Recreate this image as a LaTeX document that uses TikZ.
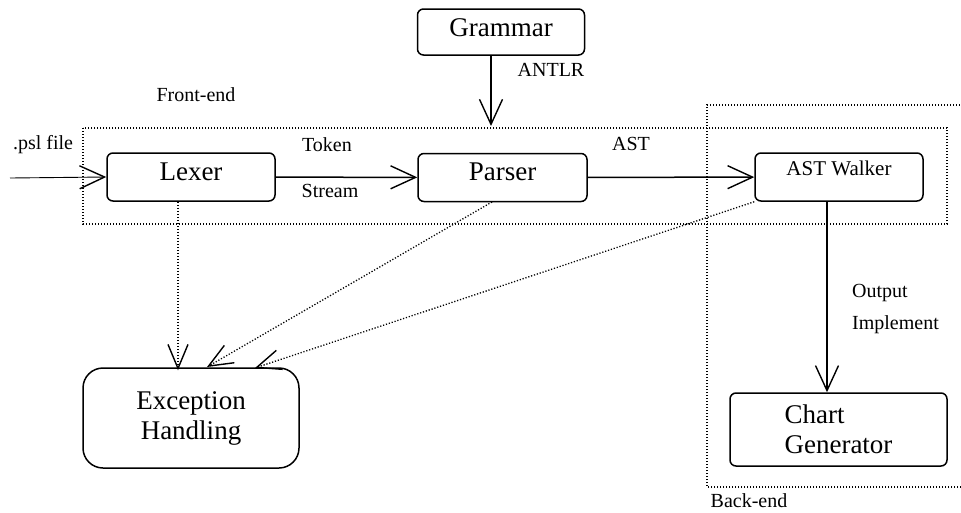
\documentclass[tikz,border=0pt]{standalone}
\usepackage{fontspec}
\setmainfont{Liberation Serif}
\usetikzlibrary{arrows.meta}

\tikzset{
  box/.style={draw, line width=1.5pt, rounded corners=6pt, inner sep=0pt,
    font=\fontsize{27}{30}\selectfont, text height=18pt, text depth=12pt},
  lbl/.style={inner sep=0pt, font=\fontsize{20}{22}\selectfont},
  tipV/.tip={Straight Barb[length=25pt,width=23pt,line width=1.4pt]},
  tipE/.tip={Straight Barb[length=24pt,width=20pt,line width=1.4pt]},
  flow/.style={line width=1.5pt, -tipV},
  feed/.style={line width=0.9pt, -tipV},
  err/.style={line width=1.3pt, dash pattern=on 1.2pt off 1.8pt, -tipE},
  region/.style={line width=1.3pt, dash pattern=on 1.2pt off 1.8pt}
}

\begin{document}
\begin{tikzpicture}[x=1pt, y=-1pt]
\useasboundingbox (0,0) rectangle (961,512);

% front-end and back-end regions
\draw[region] (83,128) rectangle (947,224);
\draw[region] (964,487) -- (707,487) -- (707,105) -- (964,105);
\node[lbl] (fe) at (196,95) {Front-end};
\node[lbl] (be) at (749,501) {Back-end};

% components
\node[box, minimum width=167pt, minimum height=46pt, text depth=10pt] (grammar) at (501,32) {Grammar};
\node[box, minimum width=168pt, minimum height=48pt] (lexer) at (191,177) {Lexer};
\node[box, minimum width=169pt, minimum height=48pt] (parser) at (502.5,177.5) {Parser};
\node[box, minimum width=168pt, minimum height=48pt, font=\fontsize{21}{24}\selectfont,
      text height=14pt, text depth=17pt] (walker) at (839,177) {AST Walker};
\node[box, minimum width=217pt, minimum height=73pt, align=left, text height=, text depth=]
      (chart) at (838.5,429.5) {Chart\\Generator};
\node[box, rounded corners=20pt, minimum width=216pt, minimum height=100pt, align=center,
      text height=, text depth=] (exc) at (191,418) {Exception\\Handling};

% main data flow
\coordinate (src) at (10,178);
\node[lbl] (psl) at (43,145) {.psl file};
\draw[feed] (src) -- (lexer.west);
\draw[flow] (lexer) -- (parser);
\node[lbl] (tok) at (327,145) {Token};
\node[lbl] (str) at (330,191) {Stream};
\draw[flow] (parser) -- (walker);
\node[lbl] (ast) at (631,144) {AST};

% parser generation
\coordinate (antlrEnd) at (491,126);
\draw[flow] (grammar.south -| antlrEnd) -- (antlrEnd);
\node[lbl] (antlr) at (551,70) {ANTLR};

% output stage
\coordinate (outx) at (827,0);
\draw[flow] (walker.south -| outx) -- (chart.north -| outx);
\node[lbl, anchor=west] (outp) at (852,293) {Output};
\node[lbl, anchor=west] (impl) at (852,325) {Implement};

% error reporting
\coordinate (lexErr) at (178,0);
\coordinate (parErr) at (492,202);
\coordinate (parIn) at (207,367);
\coordinate (walkIn) at (255,368);
\draw[err] (lexer.south -| lexErr) -- ([yshift=-3pt]exc.north -| lexErr);
\draw[err] (parErr) -- (parIn);
\draw[err] (walker.south west) -- (walkIn);
\end{tikzpicture}
\end{document}
